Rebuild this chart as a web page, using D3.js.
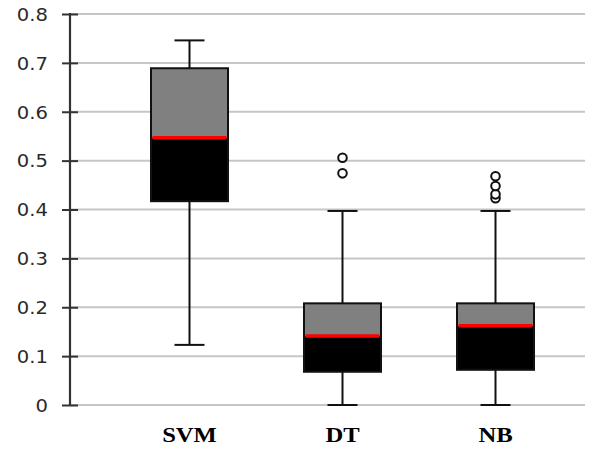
<!DOCTYPE html>
<html>
<head>
<meta charset="utf-8">
<script src="https://cdn.jsdelivr.net/npm/d3@7"></script>
<style>
  html, body { margin: 0; padding: 0; background: #fff; }
  svg { display: block; }
</style>
</head>
<body>
<svg id="chart" width="589" height="450"></svg>
<script>
const categories = ["SVM", "DT", "NB"];
const whiskerLow = [0.123, 0.0, 0.0];
const q1 = [0.417, 0.068, 0.072];
const median = [0.547, 0.141, 0.162];
const q3 = [0.689, 0.208, 0.208];
const whiskerHigh = [0.746, 0.397, 0.397];
const outliers = [[], [0.474, 0.506], [0.423, 0.431, 0.448, 0.468]];
const yTicks = [0, 0.1, 0.2, 0.3, 0.4, 0.5, 0.6, 0.7, 0.8];
const yTickLabels = ["0", "0.1", "0.2", "0.3", "0.4", "0.5", "0.6", "0.7", "0.8"];

const svg = d3.select("#chart");
const axisX = 70, gridRight = 585;
const y = d3.scaleLinear().domain([0, 0.8]).range([405, 14]);
const x = d3.scalePoint().domain(categories).range([189.5, 495.5]);
const boxW = 77, capW = 30;

// gridlines
svg.append("g").selectAll("line").data(yTicks).join("line")
  .attr("x1", axisX).attr("x2", gridRight)
  .attr("y1", d => y(d)).attr("y2", d => y(d))
  .attr("stroke", "#c6c6c6").attr("stroke-width", 2);

// y axis
const yAxis = d3.axisLeft(y).tickValues(yTicks)
  .tickFormat((d, i) => yTickLabels[i]).tickSize(0).tickPadding(0);
const ga = svg.append("g").attr("transform", `translate(${axisX},0)`).call(yAxis);
ga.select(".domain").attr("stroke", "#333").attr("stroke-width", 2.2)
  .attr("d", `M0,${y(0) + 1}V${y(0.8) - 1}`);
ga.selectAll(".tick line").attr("x1", -8).attr("x2", 8)
  .attr("stroke", "#333").attr("stroke-width", 2);
ga.selectAll(".tick text")
  .attr("x", 0).attr("dy", "0.36em")
  .attr("font-family", "DejaVu Sans, sans-serif").attr("font-size", 17.5)
  .attr("fill", "#2a2a2a").attr("text-anchor", "end")
  .attr("transform", "translate(-22,0) scale(1.12,1)");

// boxes
const data = categories.map((c, i) => ({
  c, lo: whiskerLow[i], q1: q1[i], med: median[i], q3: q3[i], hi: whiskerHigh[i], out: outliers[i]
}));
const g = svg.append("g").selectAll("g").data(data).join("g");

g.append("line")
  .attr("x1", d => x(d.c)).attr("x2", d => x(d.c))
  .attr("y1", d => y(d.lo)).attr("y2", d => y(d.hi))
  .attr("stroke", "#111").attr("stroke-width", 2);
g.append("line")
  .attr("x1", d => x(d.c) - capW / 2).attr("x2", d => x(d.c) + capW / 2)
  .attr("y1", d => y(d.hi)).attr("y2", d => y(d.hi))
  .attr("stroke", "#111").attr("stroke-width", 2);
g.append("line")
  .attr("x1", d => x(d.c) - capW / 2).attr("x2", d => x(d.c) + capW / 2)
  .attr("y1", d => y(d.lo)).attr("y2", d => y(d.lo))
  .attr("stroke", "#111").attr("stroke-width", 2);

// upper (gray) part
g.append("rect")
  .attr("x", d => x(d.c) - boxW / 2).attr("width", boxW)
  .attr("y", d => y(d.q3)).attr("height", d => y(d.med) - y(d.q3))
  .attr("fill", "#808080");
// lower (black) part
g.append("rect")
  .attr("x", d => x(d.c) - boxW / 2).attr("width", boxW)
  .attr("y", d => y(d.med)).attr("height", d => y(d.q1) - y(d.med))
  .attr("fill", "#000");
// outline
g.append("rect")
  .attr("x", d => x(d.c) - boxW / 2).attr("width", boxW)
  .attr("y", d => y(d.q3)).attr("height", d => y(d.q1) - y(d.q3))
  .attr("fill", "none").attr("stroke", "#111").attr("stroke-width", 2);
// median
g.append("line")
  .attr("x1", d => x(d.c) - boxW / 2 + 1.5).attr("x2", d => x(d.c) + boxW / 2 - 1.5)
  .attr("y1", d => y(d.med)).attr("y2", d => y(d.med))
  .attr("stroke", "#ff0000").attr("stroke-width", 3.5);

// outliers
g.each(function(d) {
  d3.select(this).selectAll("circle").data(d.out).join("circle")
    .attr("cx", x(d.c)).attr("cy", v => y(v)).attr("r", 4.3)
    .attr("fill", "#fff").attr("stroke", "#111").attr("stroke-width", 2);
});

// x labels
svg.append("g").selectAll("text").data(categories).join("text")
  .attr("transform", d => `translate(${x(d)},442) scale(1.12,1)`)
  .attr("text-anchor", "middle")
  .attr("font-family", "Liberation Serif, Times New Roman, serif")
  .attr("font-weight", "bold").attr("font-size", 22)
  .attr("fill", "#000")
  .text(d => d);
</script>
</body>
</html>
